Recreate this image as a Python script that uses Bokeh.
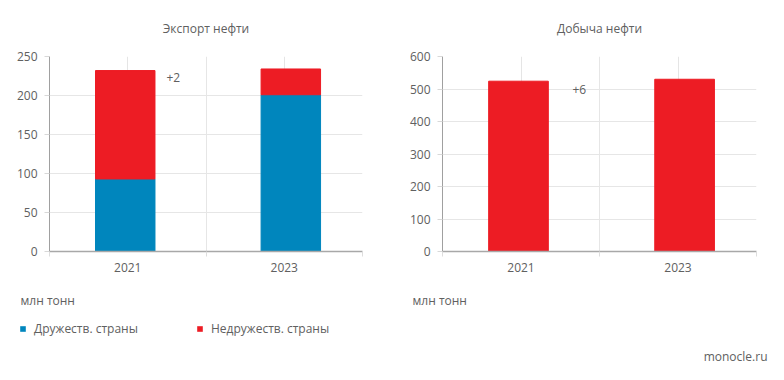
from bokeh.plotting import figure
from bokeh.models import (FactorRange, Range1d, LinearAxis, FixedTicker, Grid, Label,
                          Legend, LegendItem, ColumnDataSource, CDSView, IndexFilter)
from bokeh.layouts import row, column
from bokeh.transform import dodge
from bokeh.embed import file_html
from bokeh.resources import INLINE

# ---- data ----
years = ["2021", "2023"]
export_friendly = [93, 201]
export_unfriendly = [139, 33]
production = [524, 530]
series_names = ["Дружеств. страны", "Недружеств. страны"]
titles = ["Экспорт нефти", "Добыча нефти"]
export_ticks = [0, 50, 100, 150, 200, 250]
production_ticks = [0, 100, 200, 300, 400, 500, 600]
unit_label = "млн тонн"
source_label = "monocle.ru"

# ---- style ----
BLUE = "#0086BD"
RED = "#ED1C24"
FONT = "Open Sans"
TXT = "#606060"
GRID = "#e6e6e6"
bar_offsets = [-0.016, 0.042]
BAR_W = 0.38
FIG_H = 288
FOOT_H = 92


def make_fig(title, ymax, yticks, left, right):
    n = len(years)
    p = figure(width=392, height=FIG_H, x_range=FactorRange(*years), y_range=Range1d(0, ymax),
               x_axis_location=None, output_backend="svg", toolbar_location=None,
               min_border_left=left, min_border_right=right, min_border_top=56,
               min_border_bottom=FIG_H - 56 - 195, outline_line_color=None, title=title)
    p.title.align = "center"
    p.title.vertical_align = "top"
    p.title.text_font = FONT
    p.title.text_font_size = "12px"
    p.title.text_font_style = "normal"
    p.title.text_color = TXT
    p.title.standoff = 35

    ya = p.yaxis[0]
    ya.ticker = FixedTicker(ticks=yticks)
    ya.axis_line_color = "#a0a0a0"
    ya.major_tick_line_color = "#d8d8d8"
    ya.major_tick_out = 5
    ya.major_tick_in = 0
    ya.minor_tick_line_color = None
    ya.major_label_text_font = FONT
    ya.major_label_text_font_size = "12px"
    ya.major_label_text_color = TXT
    ya.major_label_standoff = 7
    p.ygrid.grid_line_color = GRID
    p.ygrid.ticker = FixedTicker(ticks=yticks)

    # category centres in the factor range's synthetic coordinates sit at i+0.5
    xa = LinearAxis(ticker=FixedTicker(ticks=[i + 0.5 for i in range(n)], minor_ticks=list(range(n + 1))),
                    major_label_overrides={i + 0.5: y for i, y in enumerate(years)})
    xa.axis_line_color = "#a8a8a8"
    xa.axis_line_width = 1.6
    xa.major_tick_line_color = None
    xa.minor_tick_line_color = "#dddddd"
    xa.minor_tick_out = 5
    xa.minor_tick_in = 0
    xa.major_label_text_font = FONT
    xa.major_label_text_font_size = "12px"
    xa.major_label_text_color = TXT
    p.add_layout(xa, "below")
    p.add_layout(Grid(dimension=0, grid_line_color=GRID,
                      ticker=FixedTicker(ticks=list(range(1, n + 1)))))
    return p


def txt_label(p, x, y, text, align="left", units="screen"):
    p.add_layout(Label(x=x, y=y, x_units=units, y_units=units, text=text,
                       text_align=align, text_baseline="middle", text_font=FONT,
                       text_font_size="12px", text_color=TXT))


# ---- left: export ----
p1 = make_fig(titles[0], 250, export_ticks, 49, 30)
src1 = ColumnDataSource(dict(year=years, friendly=export_friendly, unfriendly=export_unfriendly))
for i in range(len(years)):
    p1.vbar_stack(["friendly", "unfriendly"], x=dodge("year", bar_offsets[i], range=p1.x_range),
                  width=BAR_W, color=[BLUE, RED], source=src1,
                  view=CDSView(filter=IndexFilter([i])))
totals = [a + b for a, b in zip(export_friendly, export_unfriendly)]
txt_label(p1, 117, 174, "%+d" % (totals[1] - totals[0]))

# ---- right: production ----
p2 = make_fig(titles[1], 600, production_ticks, 50, 28)
src2 = ColumnDataSource(dict(year=years, value=production))
for i in range(len(years)):
    p2.vbar(x=dodge("year", bar_offsets[i], range=p2.x_range), top="value", width=BAR_W,
            color=RED, source=src2, view=CDSView(filter=IndexFilter([i])))
txt_label(p2, 130, 162, "%+d" % (production[1] - production[0]))

# ---- footer: units, legend, source ----
p3 = figure(width=784, height=FOOT_H, x_range=Range1d(0, 784), y_range=Range1d(FOOT_H, 0),
            x_axis_location=None, y_axis_location=None, min_border=0, outline_line_color=None,
            toolbar_location=None, output_backend="svg")
p3.grid.visible = False
txt_label(p3, 20, 12, unit_label, units="data")
txt_label(p3, 412, 12, unit_label, units="data")
txt_label(p3, 767, 68, source_label, align="right", units="data")
# zero-size proxy glyphs that carry the series colours into the legend
legend_renderers = [p3.vbar(x=[0], top=[0], bottom=[0], width=0, fill_color=c, line_color=None)
                    for c in [BLUE, RED]]
legend = Legend(items=[LegendItem(label=name, renderers=[r]) for name, r in zip(series_names, legend_renderers)],
                location=(19, FOOT_H - 40 - 10), orientation="horizontal", glyph_width=7, glyph_height=7,
                label_standoff=8, label_width=162, label_height=20, spacing=0, padding=0, margin=0,
                border_line_color=None, background_fill_alpha=0, label_text_font=FONT,
                label_text_font_size="12px", label_text_color=TXT)
p3.add_layout(legend)

layout = column(row(p1, p2), p3)
open("out.html", "w").write(file_html(layout, INLINE))
